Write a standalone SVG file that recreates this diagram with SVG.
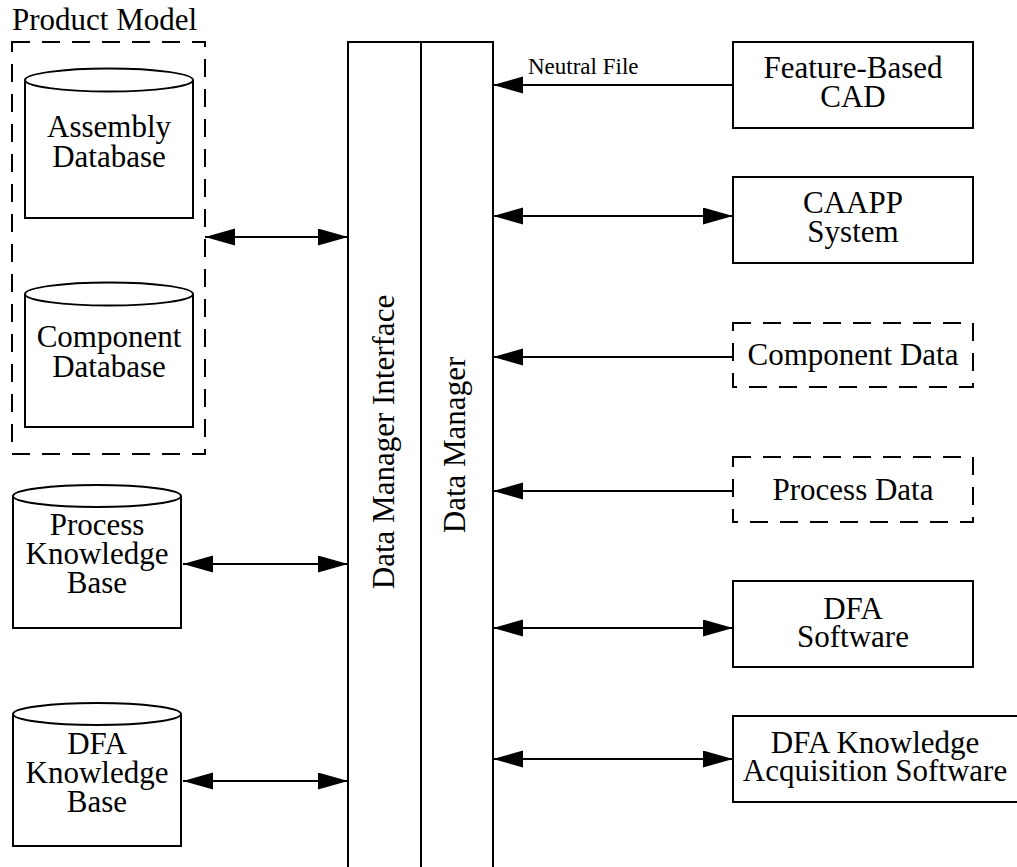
<svg xmlns="http://www.w3.org/2000/svg" width="1017" height="867" viewBox="0 0 1017 867">
<style>
  .t { font-family: "Liberation Serif", "Times New Roman", serif; font-size: 31px; fill: #000; text-anchor: middle; }
  .s { stroke: #000; stroke-width: 2; fill: #fff; }
  .d { stroke: #000; stroke-width: 2; fill: none; stroke-dasharray: 18 12; }
  .c { stroke: #000; stroke-width: 2; fill: none; }
</style>
<defs>
  <marker id="ah" markerUnits="userSpaceOnUse" markerWidth="30" markerHeight="18" refX="30" refY="8.5" orient="auto-start-reverse">
    <path d="M0,0 L30,8.5 L0,17 z" fill="#000"/>
  </marker>
</defs>
<rect width="1017" height="867" fill="#fff"/>

<g id="product-model">
  <text class="t" x="12" y="30" style="text-anchor:start">Product Model</text>
  <rect class="d" x="12" y="42" width="193" height="412"/>
</g>

<g id="assembly-db">
  <path class="s" d="M25,80 L25,218 L193,218 L193,80"/>
  <ellipse class="s" cx="109" cy="80" rx="84" ry="11.5"/>
  <text class="t" x="109" y="137">Assembly</text>
  <text class="t" x="109" y="167">Database</text>
</g>

<g id="component-db">
  <path class="s" d="M25,294 L25,427 L193,427 L193,294"/>
  <ellipse class="s" cx="109" cy="294" rx="84" ry="11.5"/>
  <text class="t" x="109" y="347">Component</text>
  <text class="t" x="109" y="377">Database</text>
</g>

<g id="process-kb">
  <path class="s" d="M13,496 L13,628 L181,628 L181,496"/>
  <ellipse class="s" cx="97" cy="496" rx="84" ry="11"/>
  <text class="t" x="97" y="535">Process</text>
  <text class="t" x="97" y="564">Knowledge</text>
  <text class="t" x="97" y="593">Base</text>
</g>

<g id="dfa-kb">
  <path class="s" d="M13,714 L13,846 L181,846 L181,714"/>
  <ellipse class="s" cx="97" cy="714" rx="84" ry="11"/>
  <text class="t" x="97" y="754">DFA</text>
  <text class="t" x="97" y="783">Knowledge</text>
  <text class="t" x="97" y="812">Base</text>
</g>

<g id="data-manager-interface">
  <rect class="s" x="348" y="42" width="73" height="840"/>
  <text class="t" transform="translate(394,442) rotate(-90)">Data Manager Interface</text>
</g>

<g id="data-manager">
  <rect class="s" x="421" y="42" width="72" height="840"/>
  <text class="t" transform="translate(465,445) rotate(-90)">Data Manager</text>
</g>

<g id="feature-cad">
  <rect class="s" x="733" y="42" width="240" height="86"/>
  <text class="t" x="853" y="78">Feature-Based</text>
  <text class="t" x="853" y="107">CAD</text>
</g>

<g id="caapp">
  <rect class="s" x="733" y="177" width="240" height="86"/>
  <text class="t" x="853" y="213">CAAPP</text>
  <text class="t" x="853" y="242">System</text>
</g>

<g id="component-data">
  <rect class="d" x="733" y="323" width="240" height="64"/>
  <text class="t" x="853" y="365">Component Data</text>
</g>

<g id="process-data">
  <rect class="d" x="733" y="457" width="240" height="65"/>
  <text class="t" x="853" y="500">Process Data</text>
</g>

<g id="dfa-software">
  <rect class="s" x="733" y="581" width="240" height="86"/>
  <text class="t" x="853" y="619">DFA</text>
  <text class="t" x="853" y="647">Software</text>
</g>

<g id="dfa-kas">
  <rect class="s" x="733" y="716" width="300" height="86"/>
  <text class="t" x="875" y="753">DFA Knowledge</text>
  <text class="t" x="875" y="781">Acquisition Software</text>
</g>

<g id="connectors">
  <line class="c" x1="205" y1="237" x2="348" y2="237" marker-start="url(#ah)" marker-end="url(#ah)"/>
  <line class="c" x1="183" y1="564" x2="348" y2="564" marker-start="url(#ah)" marker-end="url(#ah)"/>
  <line class="c" x1="183" y1="781" x2="348" y2="781" marker-start="url(#ah)" marker-end="url(#ah)"/>
  <line class="c" x1="733" y1="85" x2="493" y2="85" marker-end="url(#ah)"/>
  <text x="528" y="74" style="font-family:'Liberation Serif','Times New Roman',serif;font-size:23px;fill:#000">Neutral File</text>
  <line class="c" x1="493" y1="216" x2="733" y2="216" marker-start="url(#ah)" marker-end="url(#ah)"/>
  <line class="c" x1="733" y1="357" x2="493" y2="357" marker-end="url(#ah)"/>
  <line class="c" x1="733" y1="491" x2="493" y2="491" marker-end="url(#ah)"/>
  <line class="c" x1="493" y1="628" x2="733" y2="628" marker-start="url(#ah)" marker-end="url(#ah)"/>
  <line class="c" x1="493" y1="759" x2="733" y2="759" marker-start="url(#ah)" marker-end="url(#ah)"/>
</g>
</svg>
